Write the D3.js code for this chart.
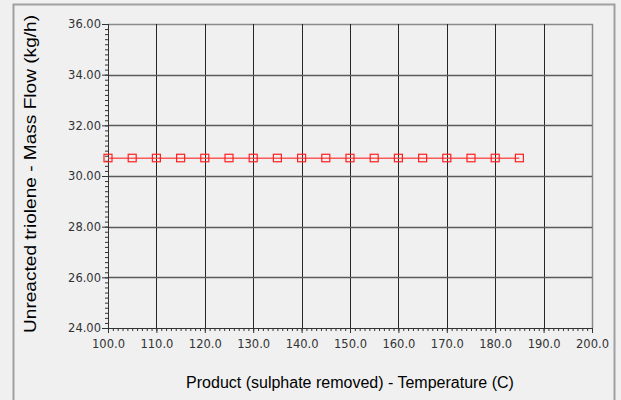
<!DOCTYPE html>
<html>
<head>
<meta charset="utf-8">
<script src="https://cdn.jsdelivr.net/npm/d3@7"></script>
<style>
  html, body { margin: 0; padding: 0; background: #f0f0f0; }
  svg { display: block; }
</style>
</head>
<body>
<svg id="chart" width="621" height="400"></svg>
<script>
// Temperature sweep (C) and the resulting unreacted triolene mass flow (kg/h)
const temperatures = [100, 105, 110, 115, 120, 125, 130, 135, 140, 145, 150, 155, 160, 165, 170, 175, 180, 185];
const massFlows = [30.7, 30.7, 30.7, 30.7, 30.7, 30.7, 30.7, 30.7, 30.7, 30.7, 30.7, 30.7, 30.7, 30.7, 30.7, 30.7, 30.7, 30.7];
const xTicks = [100, 110, 120, 130, 140, 150, 160, 170, 180, 190, 200];
const yTicks = [24, 26, 28, 30, 32, 34, 36];
const xTitle = "Product (sulphate removed) - Temperature (C)";
const yTitle = "Unreacted triolene - Mass Flow (kg/h)";

const svg = d3.select("#chart");
const plot = { left: 108, right: 592, top: 24, bottom: 328 };

const x = d3.scaleLinear().domain([100, 200]).range([plot.left, plot.right]);
const y = d3.scaleLinear().domain([24, 36]).range([plot.bottom, plot.top]);

// outer panel frame
svg.append("rect").attr("x", 0).attr("y", 0).attr("width", 621).attr("height", 400).attr("fill", "#f0f0f0");
svg.append("path")
  .attr("d", "M13.5,402 V4.5 H614.5 V402")
  .attr("fill", "none").attr("stroke", "#a0a0a0").attr("stroke-width", 2);

// plot area border (top/right)
svg.append("path")
  .attr("d", `M${plot.left},${plot.top + 0.5} H${plot.right + 0.5} V${plot.bottom}`)
  .attr("fill", "none").attr("stroke", "#8a8a8a").attr("stroke-width", 1.5);

// grid lines
svg.append("g").selectAll("line").data(xTicks.slice(1, -1)).join("line")
  .attr("x1", d => Math.round(x(d)) + 0.5).attr("x2", d => Math.round(x(d)) + 0.5)
  .attr("y1", plot.top).attr("y2", plot.bottom)
  .attr("stroke", "#262626").attr("stroke-width", 1);
svg.append("g").selectAll("line").data(yTicks.slice(1, -1)).join("line")
  .attr("x1", plot.left).attr("x2", plot.right)
  .attr("y1", d => Math.round(y(d)) + 0.5).attr("y2", d => Math.round(y(d)) + 0.5)
  .attr("stroke", "#5a5a5a").attr("stroke-width", 1.5);

// x axis with minor ticks
const xAxisG = svg.append("g").attr("transform", `translate(0,${plot.bottom})`);
xAxisG.call(d3.axisBottom(x).tickValues(d3.range(100, 201, 1)).tickSize(3).tickFormat(""));
xAxisG.append("g").call(d3.axisBottom(x).tickValues(xTicks).tickSize(5).tickFormat(d3.format(".1f")));
xAxisG.selectAll(".domain").attr("stroke", "#333");
xAxisG.selectAll("line").attr("stroke", "#333");
xAxisG.selectAll("text")
  .attr("fill", "#333").attr("font-family", "Tahoma, 'DejaVu Sans', sans-serif")
  .attr("font-size", 11.5).attr("dy", "0.35em").attr("y", 16);

// y axis with minor ticks
const yAxisG = svg.append("g").attr("transform", `translate(${plot.left},0)`);
yAxisG.call(d3.axisLeft(y).tickValues(d3.range(24, 36.01, 0.2)).tickSize(3).tickFormat(""));
yAxisG.append("g").call(d3.axisLeft(y).tickValues(yTicks).tickSize(6).tickFormat(d3.format(".2f")));
yAxisG.selectAll(".domain").attr("stroke", "#333");
yAxisG.selectAll("line").attr("stroke", "#333");
yAxisG.selectAll("text")
  .attr("fill", "#333").attr("font-family", "Tahoma, 'DejaVu Sans', sans-serif")
  .attr("font-size", 11.5).attr("x", -7);

// series line and square markers
const line = d3.line().x((d, i) => x(temperatures[i])).y(d => y(d));
svg.append("path").datum(massFlows)
  .attr("d", line).attr("fill", "none")
  .attr("stroke", "#ff4040").attr("stroke-opacity", 0.85).attr("stroke-width", 1.5);
svg.append("g").selectAll("rect").data(massFlows).join("rect")
  .attr("x", (d, i) => x(temperatures[i]) - 4)
  .attr("y", d => y(d) - 4)
  .attr("width", 8).attr("height", 7.5)
  .attr("fill", "none").attr("stroke", "#ff2020").attr("stroke-width", 1.2);

// axis titles
svg.append("text")
  .attr("x", (plot.left + plot.right) / 2 + 0).attr("y", 388)
  .attr("text-anchor", "middle")
  .attr("font-family", "Arial, 'Liberation Sans', sans-serif").attr("font-size", 16)
  .attr("fill", "#000").text(xTitle);
svg.append("text")
  .attr("transform", `translate(36,174) rotate(-90)`)
  .attr("text-anchor", "middle")
  .attr("font-family", "Arial, 'Liberation Sans', sans-serif").attr("font-size", 17)
  .attr("textLength", 318).attr("lengthAdjust", "spacingAndGlyphs")
  .attr("fill", "#000").text(yTitle);
</script>
</body>
</html>
